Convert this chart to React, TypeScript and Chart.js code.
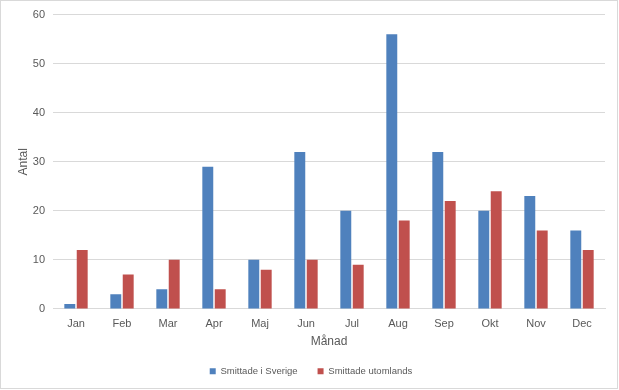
import React, { useEffect, useRef } from "react";
import { Chart, registerables } from "chart.js";

Chart.register(...registerables);

const months = ["Jan", "Feb", "Mar", "Apr", "Maj", "Jun", "Jul", "Aug", "Sep", "Okt", "Nov", "Dec"];
const sverige = [1, 3, 4, 29, 10, 32, 20, 56, 32, 20, 23, 16];
const utomlands = [12, 7, 10, 4, 8, 10, 9, 18, 22, 24, 16, 12];

const FONT = "'Liberation Sans', Arial, sans-serif";
const TEXT = "#595959";

const borderPlugin = {
  id: "outerBorder",
  beforeDraw(chart: any) {
    const ctx = chart.ctx;
    ctx.save();
    ctx.fillStyle = "#ffffff";
    ctx.fillRect(0, 0, chart.width, chart.height);
    ctx.strokeStyle = "#d9d9d9";
    ctx.lineWidth = 1;
    ctx.strokeRect(0.5, 0.5, chart.width - 2, chart.height - 2);
    ctx.restore();
  },
};

export default function App() {
  const ref = useRef<HTMLCanvasElement>(null);
  useEffect(() => {
    document.body.style.margin = "0";
    const chart = new Chart(ref.current!, {
      type: "bar",
      data: {
        labels: months,
        datasets: [
          { label: "Smittade i Sverige", data: sverige, backgroundColor: "#4F81BD" },
          { label: "Smittade utomlands", data: utomlands, backgroundColor: "#C0504D" },
        ],
      },
      plugins: [borderPlugin],
      options: {
        responsive: false,
        animation: false,
        layout: { padding: { top: 13, right: 14, left: 17, bottom: 4 } },
        datasets: { bar: { categoryPercentage: 0.54, barPercentage: 0.88 } },
        plugins: {
          tooltip: { enabled: false },
          legend: {
            position: "bottom",
            labels: {
              boxWidth: 6,
              boxHeight: 6,
              padding: 20,
              color: TEXT,
              font: { family: FONT, size: 9.5 },
            },
          },
        },
        scales: {
          x: {
            grid: { display: false, drawTicks: false },
            border: { color: "#d9d9d9" },
            ticks: { color: TEXT, font: { family: FONT, size: 11 }, padding: 8 },
            title: { display: true, text: "Månad", color: TEXT, font: { family: FONT, size: 12 }, padding: { top: -4, bottom: -2 } },
          },
          y: {
            min: 0,
            max: 60,
            ticks: { stepSize: 10, color: TEXT, font: { family: FONT, size: 11 }, padding: 8 },
            grid: { color: "#d9d9d9", drawTicks: false },
            border: { display: false },
            title: { display: true, text: "Antal", color: TEXT, font: { family: FONT, size: 12 }, padding: { top: -1, bottom: 0 } },
            afterFit(scale: any) {
              scale.width = 36;
            },
          },
        },
      },
    });
    return () => chart.destroy();
  }, []);
  return <canvas ref={ref} width={619} height={390} style={{ display: "block" }} />;
}
